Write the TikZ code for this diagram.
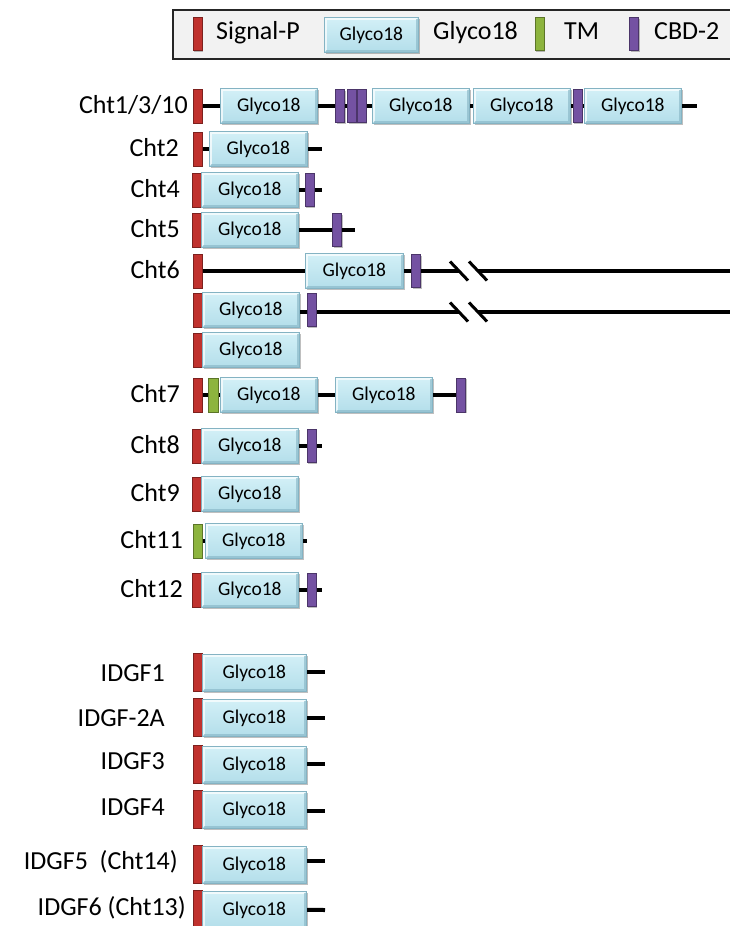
\documentclass[tikz,border=0pt]{standalone}
\usepackage{fontspec}
\setmainfont{Carlito}
\usetikzlibrary{shadows,backgrounds}
\definecolor{sigred}{HTML}{C0322E}
\definecolor{tmgreen}{HTML}{8DB43E}
\definecolor{cbdpur}{HTML}{7452A2}
\definecolor{glytop}{HTML}{D3F0F7}
\definecolor{glybot}{HTML}{B3DEEA}
\definecolor{glyedge}{HTML}{84B3C3}
\tikzset{
  dombase/.style={rectangle, inner sep=0pt, line width=0.7pt,
    drop shadow={shadow xshift=1.3pt, shadow yshift=-1.3pt, fill=black, opacity=0.25}},
  bevel/.style={path picture={
    \draw[white, opacity=0.7, line width=1.6pt]
      ([xshift=1.4pt,yshift=1.4pt]path picture bounding box.south west) |-
      ([xshift=-1.4pt,yshift=-1.4pt]path picture bounding box.north east);
    \draw[#1, opacity=0.6, line width=1.6pt]
      ([xshift=1.4pt,yshift=1.4pt]path picture bounding box.south west) -|
      ([xshift=-1.4pt,yshift=-1.4pt]path picture bounding box.north east);}},
  sigp/.style={dombase, minimum width=9pt, minimum height=34pt, fill=sigred, draw=sigred!65!black},
  sigi/.style={sigp, minimum height=38pt},
  tmbox/.style={dombase, minimum width=10pt, minimum height=34pt, fill=tmgreen, draw=tmgreen!65!black},
  cbd/.style={dombase, minimum width=9pt, minimum height=33pt, fill=cbdpur, draw=cbdpur!65!black},
  gly/.style={dombase, anchor=west, minimum width=97pt, minimum height=35pt,
    draw=glyedge, top color=glytop, bottom color=glybot, bevel=glyedge,
    font=\fontsize{19.5}{20}\selectfont},
  glyi/.style={gly, minimum width=104pt, minimum height=37pt},
  bb/.style={line width=4pt},
  brk/.style={line width=3pt},
  lbl/.style={font=\fontsize{26}{28}\selectfont, inner sep=0pt, anchor=mid east, yshift=-3pt},
  ltxt/.style={font=\fontsize{26}{28}\selectfont, inner sep=0pt, anchor=mid west}
}
\begin{document}
\begin{tikzpicture}[x=1pt,y=-1pt]
\useasboundingbox (0,0) rectangle (729,926);

% ---------- legend ----------
\draw[draw=black!85, fill=black!5, line width=1.3pt] (173,10) rectangle (735,59);
\node[sigp, minimum height=33pt] (lsig) at (197.5,34) {};
\node[ltxt] (lsigt) at (216,37) {Signal-P};
\node[gly, minimum width=94pt] (lgly) at (324,35) {Glyco18};
\node[ltxt] (lglyt) at (433,37) {Glyco18};
\node[tmbox, minimum height=33pt, minimum width=9pt] (ltm) at (539.5,34) {};
\node[ltxt] (ltmt) at (564,37) {TM};
\node[cbd] (lcbd) at (634,34) {};
\node[ltxt] (lcbdt) at (654,37) {CBD-2};

% ---------- Cht1/3/10 ----------
\node[lbl] (L1) at (188,108) {Cht1/3/10};
\node[sigp] (r1s) at (197.5,106) {};
\node[gly] (r1g1) at (220,106) {Glyco18};
\node[cbd] (r1c1) at (340,106) {};
\node[cbd] (r1c2) at (352,106) {};
\node[cbd] (r1c3) at (361.5,106) {};
\node[gly] (r1g2) at (372,106) {Glyco18};
\node[gly] (r1g3) at (473,106) {Glyco18};
\node[cbd] (r1c4) at (577.5,106) {};
\node[gly] (r1g4) at (584,106) {Glyco18};
\coordinate (r1e) at (697,106);

% ---------- Cht2 ----------
\node[lbl] (L2) at (179,151) {Cht2};
\node[sigp] (r2s) at (197.5,149) {};
\node[gly, minimum width=98pt] (r2g1) at (209,149) {Glyco18};
\coordinate (r2e) at (322,149);

% ---------- Cht4 ----------
\node[lbl] (L4) at (180,192) {Cht4};
\node[sigp] (r4s) at (197,190) {};
\node[gly] (r4g1) at (201,190) {Glyco18};
\node[cbd] (r4c1) at (309.5,190) {};
\coordinate (r4e) at (322,190);

% ---------- Cht5 ----------
\node[lbl] (L5) at (180,232) {Cht5};
\node[sigp] (r5s) at (197,230) {};
\node[gly] (r5g1) at (201,230) {Glyco18};
\node[cbd] (r5c1) at (337,230) {};
\coordinate (r5e) at (355,230);

% ---------- Cht6 ----------
\node[lbl] (L6) at (180,273) {Cht6};
\node[sigp] (r6s) at (197.5,271) {};
\node[gly, minimum width=98pt] (r6g1) at (305,271) {Glyco18};
\node[cbd] (r6c1) at (416,271) {};
\coordinate (r6b1) at (459,271);
\coordinate (r6b2) at (478,271);
\coordinate (r6e) at (733,271);

\node[sigp] (r6bs) at (197.5,310) {};
\node[gly] (r6bg1) at (202,310) {Glyco18};
\node[cbd] (r6bc1) at (311.5,310) {};
\coordinate (r6bb1) at (459,312);
\coordinate (r6bb2) at (478,312);
\coordinate (r6be) at (733,312);

\node[sigp] (r6cs) at (197.5,350) {};
\node[gly] (r6cg1) at (202,350) {Glyco18};

% ---------- Cht7 ----------
\node[lbl] (L7) at (180,397) {Cht7};
\node[sigp] (r7s) at (197.5,395) {};
\node[tmbox] (r7t) at (213,395) {};
\node[gly] (r7g1) at (220,395) {Glyco18};
\node[gly] (r7g2) at (335,395) {Glyco18};
\node[cbd, minimum height=34pt] (r7c1) at (461,395) {};

% ---------- Cht8 ----------
\node[lbl] (L8) at (180,448) {Cht8};
\node[sigp] (r8s) at (197,446) {};
\node[gly] (r8g1) at (201,446) {Glyco18};
\node[cbd] (r8c1) at (311.5,446) {};
\coordinate (r8e) at (322,446);

% ---------- Cht9 ----------
\node[lbl] (L9) at (180,496) {Cht9};
\node[sigp] (r9s) at (197,494) {};
\node[gly] (r9g1) at (201,494) {Glyco18};

% ---------- Cht11 ----------
\node[lbl] (L11) at (183,543) {Cht11};
\node[tmbox, minimum width=9pt] (r11t) at (197.5,541) {};
\node[gly] (r11g1) at (205,541) {Glyco18};
\coordinate (r11e) at (307,541);

% ---------- Cht12 ----------
\node[lbl] (L12) at (183,592) {Cht12};
\node[sigp] (r12s) at (197,590) {};
\node[gly] (r12g1) at (201,590) {Glyco18};
\node[cbd] (r12c1) at (311.5,590) {};
\coordinate (r12e) at (322,590);

% ---------- IDGF ----------
\node[lbl] (LI1) at (165,676) {IDGF1};
\node[sigi] (i1s) at (197.5,672) {};
\node[glyi] (i1g) at (202,673) {Glyco18};
\coordinate (i1e) at (325,672);

\node[lbl] (LI2) at (165,721) {IDGF-2A};
\node[sigi] (i2s) at (197.5,717) {};
\node[glyi] (i2g) at (202,718) {Glyco18};
\coordinate (i2e) at (325,718);

\node[lbl] (LI3) at (165,764) {IDGF3};
\node[sigi] (i3s) at (197.5,764) {};
\node[glyi] (i3g) at (202,765) {Glyco18};
\coordinate (i3e) at (325,764);

\node[lbl] (LI4) at (165,810) {IDGF4};
\node[sigi] (i4s) at (197.5,809) {};
\node[glyi] (i4g) at (202,810) {Glyco18};
\coordinate (i4e) at (325,811);

\node[lbl] (LI5) at (178,864) {IDGF5\hspace{0.45em}(Cht14)};
\node[sigi] (i5s) at (197.5,864) {};
\node[glyi] (i5g) at (202,865) {Glyco18};
\coordinate (i5e) at (325,861);

\node[lbl] (LI6) at (186,910) {IDGF6 (Cht13)};
\node[sigi] (i6s) at (197.5,909) {};
\node[glyi] (i6g) at (202,910) {Glyco18};
\coordinate (i6e) at (325,910);

% ---------- backbones ----------
\begin{pgfonlayer}{background}
\draw[bb] (r1s) -- (r1e);
\draw[bb] (r2s) -- (r2e);
\draw[bb] (r4s) -- (r4e);
\draw[bb] (r5s) -- (r5e);
\draw[bb] (r6s) -- (r6b1);
\draw[bb] (r6b2) -- (r6e);
\draw[bb] (r6bs.east |- r6bb1) -- (r6bb1);
\draw[bb] (r6bb2) -- (r6be);
\draw[bb] (r7s) -- (r7c1);
\draw[bb] (r8s) -- (r8e);
\draw[bb] (r11t) -- (r11e);
\draw[bb] (r12s) -- (r12e);
\draw[bb] (i1s) -- (i1e);
\draw[bb] (i2s.east |- i2e) -- (i2e);
\draw[bb] (i3s) -- (i3e);
\draw[bb] (i4s.east |- i4e) -- (i4e);
\draw[bb] (i5s.east |- i5e) -- (i5e);
\draw[bb] (i6s) -- (i6e);
\end{pgfonlayer}
% break marks
\foreach \c in {r6b1,r6b2,r6bb1,r6bb2}{
  \draw[brk] ([xshift=-9pt,yshift=9.5pt]\c) -- ([xshift=9pt,yshift=-9.5pt]\c);
}
\end{tikzpicture}
\end{document}
